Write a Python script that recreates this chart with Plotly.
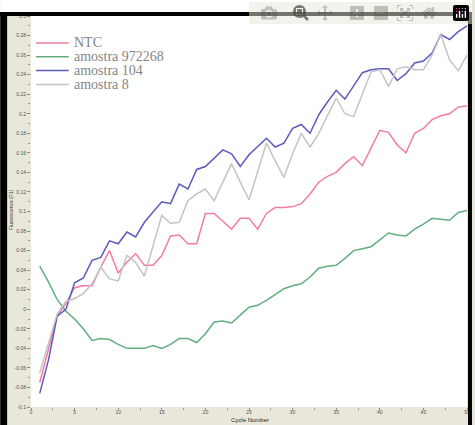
import plotly.graph_objects as go

cycles = list(range(1, 51))

ntc = [-0.075, -0.040, -0.007, 0.006, 0.022, 0.024, 0.024, 0.043, 0.060, 0.037,
       0.048, 0.057, 0.045, 0.045, 0.055, 0.075, 0.076, 0.067, 0.067, 0.098,
       0.098, 0.090, 0.082, 0.093, 0.093, 0.082, 0.098, 0.104, 0.104, 0.105,
       0.108, 0.118, 0.130, 0.136, 0.140, 0.149, 0.156, 0.147, 0.165, 0.183,
       0.181, 0.168, 0.160, 0.180, 0.185, 0.194, 0.198, 0.200, 0.207, 0.208]

amostra_972268 = [0.044, 0.028, 0.010, -0.002, -0.010, -0.020, -0.032, -0.030, -0.031, -0.036,
                  -0.040, -0.040, -0.040, -0.037, -0.040, -0.036, -0.030, -0.030, -0.034, -0.025,
                  -0.013, -0.012, -0.014, -0.006, 0.002, 0.004, 0.009, 0.015, 0.021, 0.024,
                  0.026, 0.033, 0.042, 0.044, 0.045, 0.052, 0.060, 0.062, 0.064, 0.071,
                  0.078, 0.076, 0.075, 0.082, 0.087, 0.093, 0.092, 0.091, 0.099, 0.101]

amostra_104 = [-0.086, -0.052, -0.007, 0.000, 0.027, 0.032, 0.050, 0.053, 0.070, 0.067,
               0.079, 0.074, 0.089, 0.099, 0.110, 0.108, 0.128, 0.123, 0.143, 0.146,
               0.155, 0.163, 0.159, 0.146, 0.158, 0.166, 0.175, 0.166, 0.170, 0.185,
               0.189, 0.180, 0.199, 0.212, 0.224, 0.215, 0.229, 0.242, 0.245, 0.246,
               0.246, 0.234, 0.241, 0.252, 0.254, 0.262, 0.281, 0.276, 0.284, 0.290]

amostra_8 = [-0.065, -0.035, -0.005, 0.008, 0.011, 0.016, 0.026, 0.043, 0.031, 0.029,
             0.055, 0.048, 0.034, 0.065, 0.096, 0.088, 0.089, 0.111, 0.118, 0.123,
             0.111, 0.130, 0.149, 0.130, 0.112, 0.141, 0.170, 0.152, 0.135, 0.159,
             0.180, 0.166, 0.180, 0.198, 0.216, 0.200, 0.197, 0.220, 0.243, 0.245,
             0.228, 0.246, 0.248, 0.245, 0.245, 0.260, 0.281, 0.255, 0.244, 0.260]

series_names = ["NTC", "amostra 972268", "amostra 104", "amostra 8"]
series_values = [ntc, amostra_972268, amostra_104, amostra_8]
series_colors = ["#F27CA6", "#62AE80", "#5B5BBE", "#C4C4C4"]

y_ticks = [round(-0.1 + 0.02 * i, 2) for i in range(21)]
y_tick_labels = ["0" if abs(v) < 1e-9 else ("%g" % v) for v in y_ticks]
x_ticks = list(range(0, 51, 5))

W, H = 475, 425
L, R, T, B = 31, 5, 16, 18
PW, PH = W - L - R, H - T - B


def px(x):
    return (x - L) / PW


def py(y):
    return 1 - (y - T) / PH


fig = go.Figure()
for name, vals, col in zip(series_names, series_values, series_colors):
    fig.add_trace(go.Scatter(x=cycles, y=vals, mode="lines", name=name,
                             line=dict(color=col, width=1.5), showlegend=False))

shapes = []
annotations = []
# frame pieces outside plot area
shapes.append(dict(type="rect", xref="paper", yref="paper", x0=px(0), x1=px(W), y0=py(0), y1=py(12),
                   fillcolor="white", line=dict(width=0), layer="above"))
shapes.append(dict(type="rect", xref="paper", yref="paper", x0=px(0), x1=px(W), y0=py(12), y1=py(16),
                   fillcolor="black", line=dict(width=0), layer="above"))
shapes.append(dict(type="rect", xref="paper", yref="paper", x0=px(0), x1=px(7), y0=py(12), y1=py(H),
                   fillcolor="black", line=dict(width=0), layer="above"))
shapes.append(dict(type="rect", xref="paper", yref="paper", x0=px(471), x1=px(W), y0=py(12), y1=py(H),
                   fillcolor="black", line=dict(width=0), layer="above"))

# custom legend
for i, (name, col) in enumerate(zip(series_names, series_colors)):
    yc = 43 + i * 13.8
    shapes.append(dict(type="line", xref="paper", yref="paper", x0=px(36), x1=px(69),
                       y0=py(yc), y1=py(yc), line=dict(color=col, width=1.5)))
    annotations.append(dict(text=name, xref="paper", yref="paper", x=px(72), y=py(yc),
                            xanchor="left", yanchor="middle", showarrow=False,
                            font=dict(family="Liberation Serif", size=14, color="#858585")))

annotations.append(dict(text="Cycle Number", xref="paper", yref="paper", x=px(252), y=py(420),
                        xanchor="center", yanchor="middle", showarrow=False, borderpad=0,
                        font=dict(family="Liberation Sans", size=6, color="#222")))
annotations.append(dict(text="Fluorescence (F1)", xref="paper", yref="paper", x=px(11), y=py(210),
                        xanchor="center", yanchor="middle", showarrow=False, textangle=-90,
                        font=dict(family="Arial", size=5, color="#333")))

fig.update_layout(
    width=W, height=H,
    margin=dict(l=L, r=R, t=T, b=B, pad=0),
    paper_bgcolor="#E8E7D9",
    plot_bgcolor="white",
    shapes=shapes,
    annotations=annotations,
    xaxis=dict(range=[0, 50], tickvals=x_ticks, ticktext=[str(v) for v in x_ticks],
               ticks="outside", ticklen=2, tickcolor="#888", showgrid=False, zeroline=False,
               showline=False, tickfont=dict(family="Arial", size=5, color="#555"),
               ticklabelstandoff=-2,
               minor=dict(dtick=2.5, ticks="outside", ticklen=2, tickcolor="#999")),
    yaxis=dict(range=[-0.1, 0.3], tickvals=y_ticks, ticktext=y_tick_labels,
               ticks="outside", ticklen=3, tickcolor="#888", showgrid=False, zeroline=False,
               showline=False, tickfont=dict(family="Arial", size=5, color="#555"),
               minor=dict(dtick=0.01, ticks="outside", ticklen=2, tickcolor="#999")),
)

fig.write_html("out.html",
               post_script="document.body.style.margin='0';document.body.style.overflow='hidden';")
